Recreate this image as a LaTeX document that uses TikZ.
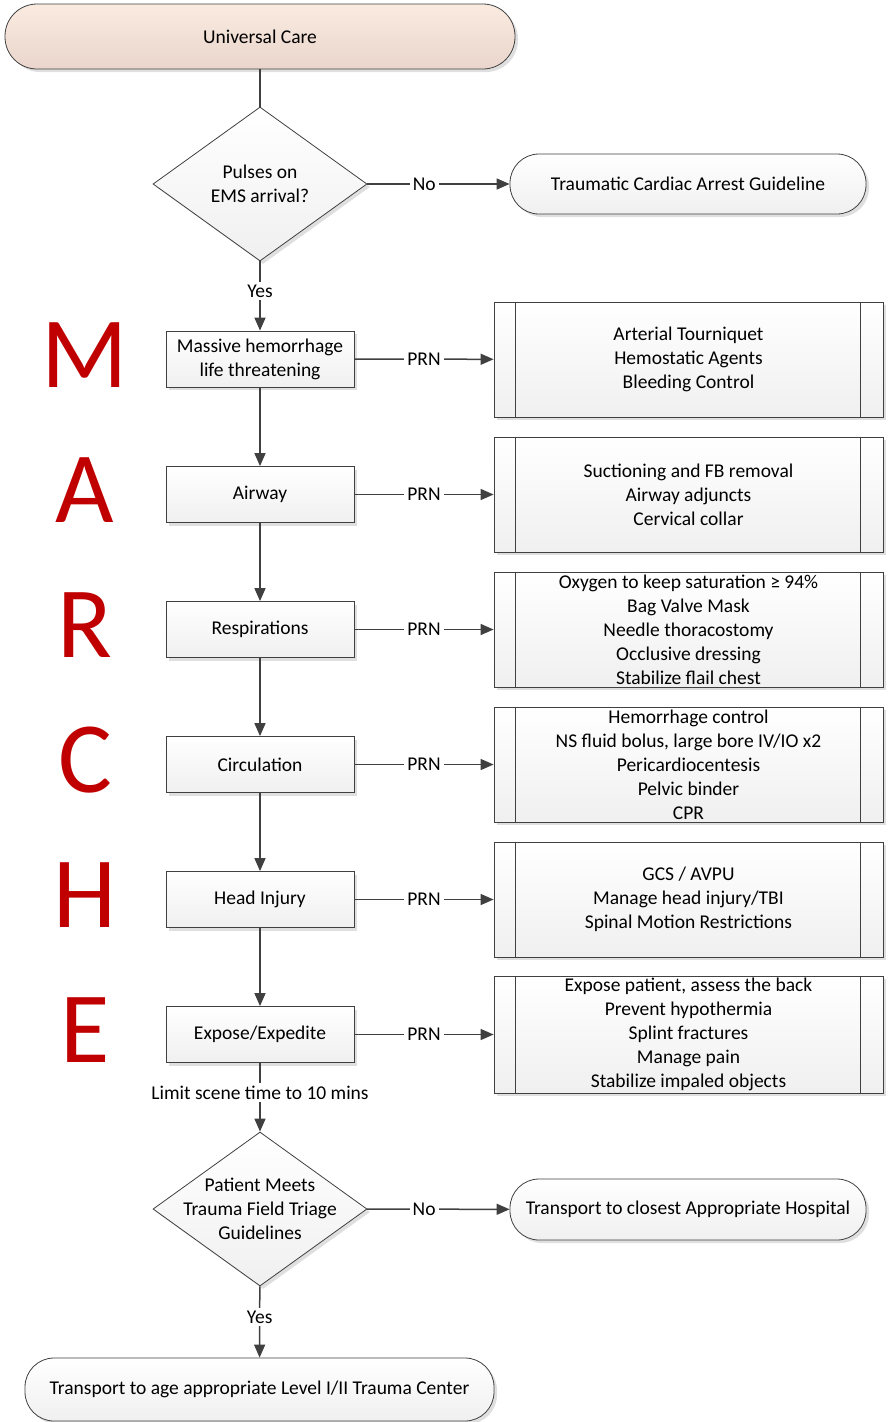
\documentclass[tikz,border=0pt]{standalone}
\usepackage{fontspec}
\setmainfont{Carlito}
\usetikzlibrary{shapes.geometric,arrows.meta,shadows}
\definecolor{lc}{HTML}{404040}
\definecolor{mred}{HTML}{C00000}
\definecolor{peachtop}{HTML}{FAEBE0}
\definecolor{peachbot}{HTML}{E9D5CB}
\begin{document}
\begin{tikzpicture}[x=1pt,y=-1pt,
  txt/.style={align=center, font=\fontsize{19.5}{24}\selectfont},
  base/.style={txt, draw=lc, line width=0.8pt, inner sep=2pt,
    drop shadow={opacity=0.25, shadow xshift=3pt, shadow yshift=-3pt}},
  term/.style={base, rounded corners=32pt, top color=peachtop, bottom color=peachbot},
  rbox/.style={base, rounded corners=29pt, top color=white, bottom color=gray!12},
  dec/.style={base, diamond, minimum width=214pt, minimum height=154pt, aspect=1.39, inner sep=0pt, top color=white, bottom color=gray!12},
  stepbox/.style={base, rectangle, minimum width=188pt, minimum height=56pt, top color=white, bottom color=gray!12},
  ppbox/.style={base, rectangle, minimum width=389pt, minimum height=115pt, top color=white, bottom color=gray!12},
  arr/.style={draw=lc, line width=1.5pt, -{Triangle[length=13pt,width=11pt]}},
  ln/.style={draw=lc, line width=1.5pt},
  lbl/.style={txt, fill=white, inner sep=3pt},
  letter/.style={text=mred, font=\fontsize{101}{101}\selectfont, inner sep=0pt}
]
\useasboundingbox (0,0) rectangle (891,1422);

\node[term, minimum width=510pt, minimum height=65pt] (uc) at (260,36.5) {Universal Care};
\node[dec] (d1) at (260,184) {};
\node[txt] (d1t) at (d1) {Pulses on\\EMS arrival?};
\node[rbox, minimum width=356pt, minimum height=60pt] (tca) at (688,184) {Traumatic Cardiac Arrest Guideline};

\node[stepbox] (m) at (260,359) {Massive hemorrhage\\life threatening};
\node[stepbox] (a) at (260,494.5) {Airway};
\node[stepbox] (r) at (260,629.5) {Respirations};
\node[stepbox] (c) at (260,764.5) {Circulation};
\node[stepbox] (h) at (260,899.5) {Head Injury};
\node[stepbox] (e) at (260,1034.5) {Expose/Expedite};

\node[ppbox] (pm) at (688.5,359.5) {Arterial Tourniquet\\Hemostatic Agents\\Bleeding Control};
\node[ppbox] (pa) at (688.5,494.5) {Suctioning and FB removal\\Airway adjuncts\\Cervical collar};
\node[ppbox] (pr) at (688.5,629.5) {Oxygen to keep saturation ≥ 94\%\\Bag Valve Mask\\Needle thoracostomy\\Occlusive dressing\\Stabilize flail chest};
\node[ppbox] (pc) at (688.5,764.5) {Hemorrhage control\\NS fluid bolus, large bore IV/IO x2\\Pericardiocentesis\\Pelvic binder\\CPR};
\node[ppbox] (ph) at (688.5,899.5) {GCS / AVPU\\Manage head injury/TBI\\Spinal Motion Restrictions};
\node[ppbox] (pe) at (688.5,1034.5) {Expose patient, assess the back\\Prevent hypothermia\\Splint fractures\\Manage pain\\Stabilize impaled objects};

\foreach \n in {pm,pa,pr,pc,ph,pe}{
  \draw[draw=lc, line width=0.8pt] ([xshift=22pt]\n.north west) -- ([xshift=22pt]\n.south west);
  \draw[draw=lc, line width=0.8pt] ([xshift=-23pt]\n.north east) -- ([xshift=-23pt]\n.south east);
}

\node[dec] (d2) at (260,1209) {};
\node[txt] (d2t) at (d2) {Patient Meets\\Trauma Field Triage\\Guidelines};
\node[rbox, minimum width=356pt, minimum height=61pt] (tch) at (688,1209.5) {Transport to closest Appropriate Hospital};
\node[rbox, minimum width=469pt, minimum height=63pt] (tl) at (259.5,1389.5) {Transport to age appropriate Level I/II Trauma Center};

\node[letter] (lm) at (85,355) {M};
\node[letter] (la) at (85,490) {A};
\node[letter] (lr) at (85,625) {R};
\node[letter] (lc) at (85,760) {C};
\node[letter] (lh) at (85,895) {H};
\node[letter] (le) at (85,1030) {E};

\draw[ln] (uc) -- (d1);
\draw[arr] (d1) -- node[lbl, pos=0.4] {No} (tca);
\draw[arr] (d1) -- node[lbl, pos=0.43] {Yes} (m);
\draw[arr] (m) -- (a);
\draw[arr] (a) -- (r);
\draw[arr] (r) -- (c);
\draw[arr] (c) -- (h);
\draw[arr] (h) -- (e);
\draw[arr] (m) -- node[lbl] {PRN} (pm);
\draw[arr] (a) -- node[lbl] {PRN} (pa);
\draw[arr] (r) -- node[lbl] {PRN} (pr);
\draw[arr] (c) -- node[lbl] {PRN} (pc);
\draw[arr] (h) -- node[lbl] {PRN} (ph);
\draw[arr] (e) -- node[lbl] {PRN} (pe);
\draw[arr] (e) -- node[lbl, pos=0.43] {Limit scene time to 10 mins} (d2);
\draw[arr] (d2) -- node[lbl, pos=0.4] {No} (tch);
\draw[arr] (d2) -- node[lbl, pos=0.43] {Yes} (tl);
\end{tikzpicture}
\end{document}
